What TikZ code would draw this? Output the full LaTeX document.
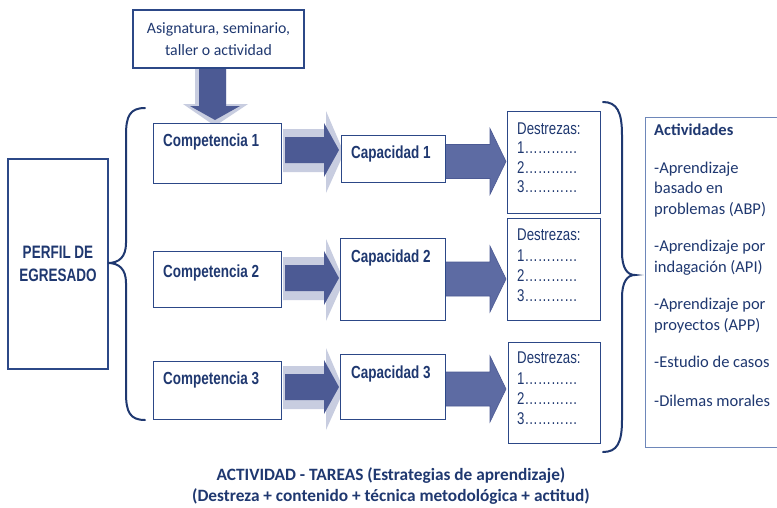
\documentclass[tikz,border=0pt]{standalone}
\usepackage{fontspec}
\setmainfont{Carlito}
\newfontfamily\narrowf[FakeStretch=0.77]{Liberation Sans}
\newfontfamily\narrowp[FakeStretch=0.75]{Liberation Sans}
\newfontfamily\narrowd[FakeStretch=0.78]{Liberation Sans}
\usetikzlibrary{calc}
\definecolor{navy}{RGB}{31,56,112}
\definecolor{boxline}{RGB}{44,72,135}
\definecolor{arrdark}{RGB}{76,90,148}
\definecolor{arrmid}{RGB}{93,107,163}
\definecolor{arrlight}{RGB}{200,205,224}
\definecolor{actline}{RGB}{110,135,185}
\newcommand\compcaparrow[1]{%
  \fill[arrlight] (283,#1-21) -- (326,#1-21) -- (326,#1-39) -- (344,#1+3) -- (326,#1+43) -- (326,#1+22) -- (283,#1+22) -- cycle;
  \fill[arrdark] (285,#1-13) -- (324,#1-13) -- (324,#1-27) -- (339,#1) -- (324,#1+27) -- (324,#1+13) -- (285,#1+13) -- cycle;}
\newcommand\capdestarrow[1]{%
  \filldraw[fill=arrmid,draw=arrdark,line width=0.6pt] (445,#1-17) -- (490,#1-17) -- (490,#1-33) -- (506,#1) -- (490,#1+33) -- (490,#1+17) -- (445,#1+17) -- cycle;}
\begin{document}
\begin{tikzpicture}[x=1pt,y=-1pt,
  box/.style={draw=boxline,line width=1.4pt,fill=white,inner sep=0pt},
  boxlabel/.style={anchor=base west,inner sep=0pt,text=navy,font=\narrowf\bfseries\fontsize{17.5}{20}\selectfont},
  destlabel/.style={anchor=north west,inner sep=0pt,align=left,text=navy},
  bracestyle/.style={draw=navy,line width=2pt,line cap=round}]
\useasboundingbox (0,0) rectangle (777,507);
\fill[white] (0,0) rectangle (777,507);

% down arrow from top box to competencia 1
\fill[arrlight] (195,68) -- (226,68) -- (226,104) -- (248,104) -- (215,126) -- (183,104) -- (195,104) -- cycle;
\fill[arrdark] (199,68) -- (226,68) -- (226,106) -- (240,106) -- (215,120) -- (190,106) -- (199,106) -- cycle;

% block arrows
\compcaparrow{150}
\compcaparrow{278}
\compcaparrow{387}
\capdestarrow{161.5}
\capdestarrow{279}
\capdestarrow{389}

% top box
\node[box,minimum width=171pt,minimum height=58pt,align=center,text=navy,
      font=\fontsize{15.8}{22}\selectfont] (asig) at (218.5,39) {Asignatura, seminario,\\taller o actividad};

% perfil
\node[box,minimum width=100pt,minimum height=210pt,align=center,text=navy,
      font=\narrowp\bfseries\fontsize{18}{23}\selectfont] (perfil) at (58,264) {PERFIL DE\\EGRESADO};

% competencias
\node[box,anchor=north west,minimum width=128pt,minimum height=60pt] (c1) at (153,123) {};
\node[box,anchor=north west,minimum width=128pt,minimum height=56pt] (c2) at (153,251) {};
\node[box,anchor=north west,minimum width=128pt,minimum height=58pt] (c3) at (153,361) {};
\node[boxlabel] (c1t) at (163,146.5) {Competencia 1};
\node[boxlabel] (c2t) at (163,277.5) {Competencia 2};
\node[boxlabel] (c3t) at (163,384.5) {Competencia 3};

% capacidades
\node[box,anchor=north west,minimum width=104pt,minimum height=47pt] (k1) at (341,135) {};
\node[box,anchor=north west,minimum width=105pt,minimum height=82pt] (k2) at (340,238) {};
\node[box,anchor=north west,minimum width=105pt,minimum height=65pt] (k3) at (340,354) {};
\node[boxlabel] (k1t) at (351,158.5) {Capacidad 1};
\node[boxlabel] (k2t) at (351,262.5) {Capacidad 2};
\node[boxlabel] (k3t) at (351,378.5) {Capacidad 3};

% destrezas
\node[box,anchor=north west,minimum width=93pt,minimum height=102pt] (d1) at (507,111) {};
\node[box,anchor=north west,minimum width=93pt,minimum height=102pt] (d2) at (507,218) {};
\node[box,anchor=north west,minimum width=92pt,minimum height=101pt] (d3) at (508,342) {};
\node[destlabel,font=\narrowd\fontsize{17}{19.2}\selectfont] (d1t) at (517,122.8) {Destrezas:\\1…………\\2…………\\3…………};
\node[destlabel,font=\narrowd\fontsize{17}{20.3}\selectfont] (d2t) at (517,228.8) {Destrezas:\\1…………\\2…………\\3…………};
\node[destlabel,font=\narrowd\fontsize{17}{20.3}\selectfont] (d3t) at (517,351.8) {Destrezas:\\1…………\\2…………\\3…………};

% braces
\draw[bracestyle] (145,108) .. controls (130,108) and (126,116) .. (126,135) -- (126,243)
   .. controls (126,257) and (119,263) .. (108,263)
   .. controls (119,263) and (126,269) .. (126,283) -- (126,393)
   .. controls (126,412) and (130,420) .. (145,420);
\draw[bracestyle] (603,102) .. controls (617,102) and (622,112) .. (622,135) -- (622,252)
   .. controls (622,268) and (627,275) .. (635,275)
   .. controls (627,275) and (622,282) .. (622,298) -- (622,420)
   .. controls (622,443) and (617,452) .. (603,452);

% actividades
\node[draw=actline,line width=0.9pt,anchor=north west,minimum width=145pt,minimum height=330pt,inner sep=0pt] (act) at (645,117) {};
\node[destlabel,font=\fontsize{16.5}{20.5}\selectfont] (actt) at (654,123.8) {\textbf{Actividades}\\[17pt]
-Aprendizaje\\basado en\\problemas (ABP)\\[17pt]
-Aprendizaje por\\indagación (API)\\[17pt]
-Aprendizaje por\\proyectos (APP)\\[17pt]
-Estudio de casos\\[18pt]
-Dilemas morales};

% bottom text
\node[align=center,text=navy,inner sep=0pt,font=\bfseries\fontsize{17.3}{20.5}\selectfont] (bottom) at (391,486)
  {ACTIVIDAD - TAREAS (Estrategias de aprendizaje)\\(Destreza + contenido + técnica metodológica + actitud)};
\end{tikzpicture}
\end{document}
